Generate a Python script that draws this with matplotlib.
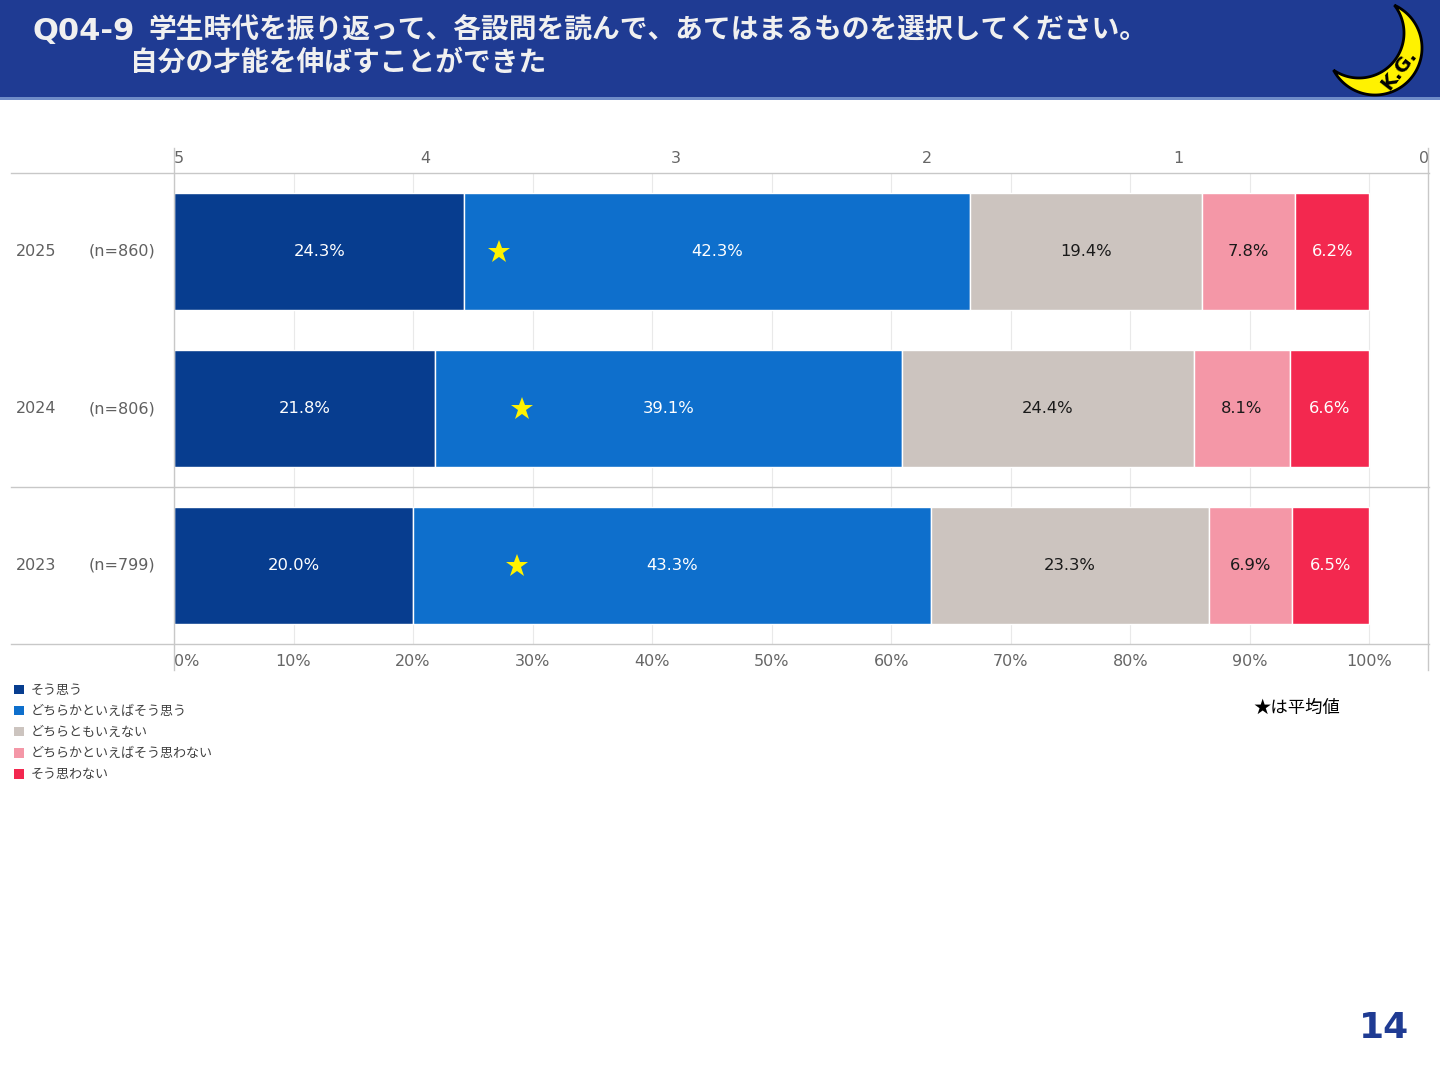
import numpy as np
import matplotlib
matplotlib.use("Agg")
import matplotlib.pyplot as plt
from matplotlib.patches import Rectangle, Polygon, Patch
from matplotlib.lines import Line2D
import matplotlib.transforms as mtrans

plt.rcParams['font.family'] = ['Noto Sans CJK JP', 'DejaVu Sans']
NUMF = ['DejaVu Sans', 'Noto Sans CJK JP']

# ---------------- data ----------------
years = ["2025", "2024", "2023"]
n_labels = ["(n=860)", "(n=806)", "(n=799)"]
categories = ["そう思う", "どちらかといえばそう思う", "どちらともいえない",
              "どちらかといえばそう思わない", "そう思わない"]
scores = [5, 4, 3, 2, 1]
values = {
    "2025": [24.3, 42.3, 19.4, 7.8, 6.2],
    "2024": [21.8, 39.1, 24.4, 8.1, 6.6],
    "2023": [20.0, 43.3, 23.3, 6.9, 6.5],
}
colors = ["#073D8F", "#0E6FCC", "#CCC4BF", "#F497A7", "#F3284F"]
text_colors = ["white", "white", "#1a1a1a", "#1a1a1a", "white"]
pct_ticks = [0, 10, 20, 30, 40, 50, 60, 70, 80, 90, 100]
score_ticks = [5, 4, 3, 2, 1, 0]
title_code = "Q04-9"
title1 = "学生時代を振り返って、各設問を読んで、あてはまるものを選択してください。"
title2 = "自分の才能を伸ばすことができた"
note = "★は平均値"
page = "14"

W, H = 1440, 1080
fig = plt.figure(figsize=(W / 100, H / 100), dpi=100)
fig.patch.set_facecolor("white")

# ------------- background / header overlay (pixel coords) -------------
bg = fig.add_axes([0, 0, 1, 1], zorder=0)
bg.set_xlim(0, W)
bg.set_ylim(H, 0)
bg.axis("off")
bg.add_patch(Rectangle((0, 0), W, 97, facecolor="#1F3B93", edgecolor="none"))
bg.add_patch(Rectangle((0, 97), W, 2.5, facecolor="#6F8CC8", edgecolor="none"))
bg.text(33, 31, title_code, color="#F0F0F0", fontsize=22, fontweight="bold",
        va="center", ha="left", family=NUMF)
bg.text(149, 31, title1, color="#F0F0F0", fontsize=20, fontweight="bold",
        va="center", ha="left")
bg.text(130, 63, title2, color="#F0F0F0", fontsize=20, fontweight="bold",
        va="center", ha="left")

# crescent logo
c1 = np.array([1375.0, 48.0]); r1 = 47.0
c2 = np.array([1359.0, 33.0]); r2 = 45.0
d = np.linalg.norm(c2 - c1)
a = (r1**2 - r2**2 + d**2) / (2 * d)
h = np.sqrt(r1**2 - a**2)
u = (c2 - c1) / d
perp = np.array([-u[1], u[0]])
P = c1 + a * u + h * perp
Q = c1 + a * u - h * perp
theta0 = np.arctan2(*(c1 - c2)[::-1])

def arc(c, r, p_start, p_end, through):
    a1 = np.arctan2(p_start[1] - c[1], p_start[0] - c[0])
    a2 = np.arctan2(p_end[1] - c[1], p_end[0] - c[0])
    s = (a2 - a1) % (2 * np.pi)
    if (through - a1) % (2 * np.pi) < s:
        ang = a1 + np.linspace(0, s, 120)
    else:
        ang = a1 - np.linspace(0, 2 * np.pi - s, 120)
    return np.column_stack([c[0] + r * np.cos(ang), c[1] + r * np.sin(ang)])

outer = arc(c1, r1, P, Q, theta0)
inner = arc(c2, r2, Q, P, theta0)
bg.add_patch(Polygon(np.vstack([outer, inner]), closed=True,
                     facecolor="#FFF200", edgecolor="black", lw=2, zorder=3))
bg.text(1399, 70, "K.G.", fontsize=14, fontweight="bold", color="black",
        rotation=52, ha="center", va="center", family="DejaVu Sans", zorder=4)

bg.text(1384, 1028, page, fontsize=26, fontweight="bold", color="#1F3B93",
        ha="center", va="center", family="DejaVu Sans")
bg.text(1340, 708, note, fontsize=12.5, color="black", ha="right", va="center")

# ---------------- main chart ----------------
ax = fig.add_axes([174 / W, 1 - 644 / H, 1255 / W, 471 / H], zorder=1)
ax.patch.set_alpha(0)
ax.set_xlim(0, 105)
ax.set_ylim(2.5, -0.5)
for s in ax.spines.values():
    s.set_visible(False)

ypos = np.arange(len(years))
for i, y in enumerate(years):
    left = 0.0
    for j, v in enumerate(values[y]):
        ax.barh(ypos[i], v, left=left, height=0.745, color=colors[j],
                edgecolor="white", linewidth=1, zorder=2)
        ax.text(left + v / 2, ypos[i], f"{v:.1f}%", ha="center", va="center",
                color=text_colors[j], fontsize=11.8, family=NUMF, zorder=4)
        left += v
    mean = sum(s * v for s, v in zip(scores, values[y])) / sum(values[y])
    ax.plot((5 - mean) * 21, ypos[i], marker="*", color="#FFF200",
            markersize=17, markeredgewidth=0, zorder=5)

# gridlines
for t in pct_ticks:
    ax.axvline(t, color="#E9E9E9", lw=0.8, zorder=1)

# frame lines
lc = "#C8C8C8"
for yy in [0, 1]:
    ax.add_line(Line2D([-0.13, 1.0], [yy, yy], transform=ax.transAxes,
                       color=lc, lw=1, clip_on=False, zorder=3))
blend = mtrans.blended_transform_factory(ax.transAxes, ax.transData)
ax.add_line(Line2D([-0.13, 1.0], [1.5, 1.5], transform=blend,
                   color=lc, lw=1, clip_on=False, zorder=3))
for xx in [0, 0.9992]:
    ax.add_line(Line2D([xx, xx], [-0.055, 1.053], transform=ax.transAxes,
                       color=lc, lw=1, clip_on=False, zorder=3))

# row labels
for i, y in enumerate(years):
    ax.text(-0.1259, ypos[i], y, transform=blend, ha="left", va="center",
            fontsize=11.5, color="#606060", family=NUMF)
    ax.text(-0.0677, ypos[i], n_labels[i], transform=blend, ha="left",
            va="center", fontsize=11.5, color="#606060", family=NUMF)

# bottom axis
ax.set_yticks([])
ax.set_xticks(pct_ticks)
ax.set_xticklabels([f"{t}%" for t in pct_ticks], family=NUMF)
ax.tick_params(axis="x", length=0, pad=7, labelsize=11.5, labelcolor="#666666")
ax.get_xticklabels()[0].set_ha("left")

# top axis (score scale)
sec = ax.secondary_xaxis("top", functions=(lambda x: 5 - x / 21,
                                           lambda s: (5 - s) * 21))
sec.set_xticks(score_ticks)
sec.set_xticklabels([str(s) for s in score_ticks], family=NUMF)
sec.tick_params(axis="x", length=0, pad=5, labelsize=11.5, labelcolor="#666666")
for sp in sec.spines.values():
    sp.set_visible(False)
tl = sec.get_xticklabels()
tl[0].set_ha("left")
tl[-1].set_ha("right")

# legend
handles = [Patch(facecolor=c, edgecolor="none") for c in colors]
fig.legend(handles, categories, loc="upper left",
           bbox_to_anchor=(14 / W, 1 - 684 / H), frameon=False,
           fontsize=9.4, handlelength=0.75, handleheight=0.75,
           handletextpad=0.5, labelspacing=0.62, borderpad=0,
           borderaxespad=0, labelcolor="#404040")

fig.savefig("out.png", dpi=100, facecolor="white")
